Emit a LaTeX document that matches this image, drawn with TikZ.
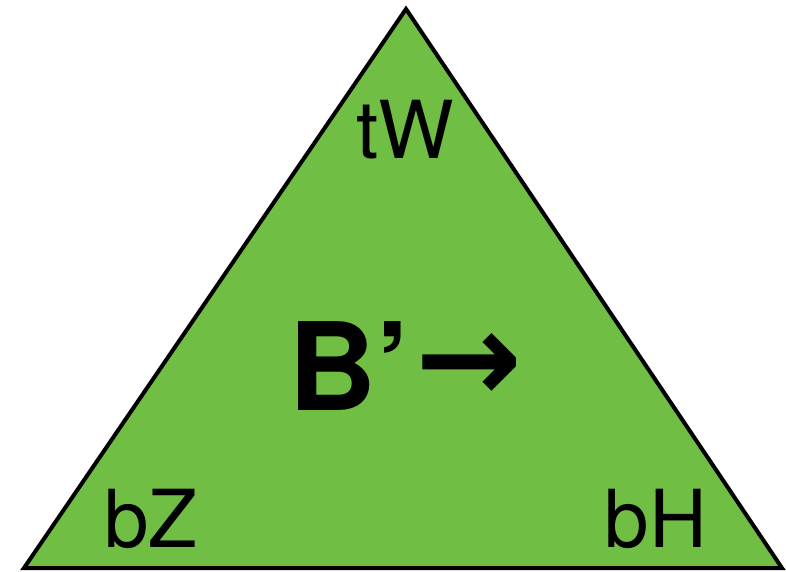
\documentclass[tikz,border=0pt]{standalone}
\usepackage{fontspec}
\setmainfont{TeX Gyre Heros}
\newfontfamily\arrowfont{DejaVu Sans}
\definecolor{leafgreen}{RGB}{112,190,68}

\begin{document}
\begin{tikzpicture}[
    x=1pt, y=-1pt,
    line join=miter,
    % Corner labels and centre label
    corner label/.style={anchor=base, inner sep=0pt, font=\fontsize{80}{96}\selectfont},
    centre label/.style={anchor=base west, inner sep=0pt, font=\fontsize{122}{140}\selectfont\bfseries}
]

% ---------------------------------------------------------
% Fixed bounding box (786 x 571)
% ---------------------------------------------------------
\path [use as bounding box] (0,0) rectangle (786,571);

% Triangle corners
\coordinate (T) at (406,9);    % Top
\coordinate (L) at (24,568);   % Bottom left
\coordinate (R) at (782,568);  % Bottom right

% Filled triangle
\filldraw[fill=leafgreen, draw=black, line width=4pt] (T) -- (L) -- (R) -- cycle;

% Labels
\node[corner label] (tW) at (405,158) {tW};
\node[corner label] (bZ) at (151,547) {bZ};
\node[corner label] (bH) at (656,547) {bH};

\node[centre label] (Bp) at (288,410)
    {B’\hspace{5pt}\raisebox{8pt}{\arrowfont\fontsize{128}{150}\selectfont →}};

\end{tikzpicture}
\end{document}
